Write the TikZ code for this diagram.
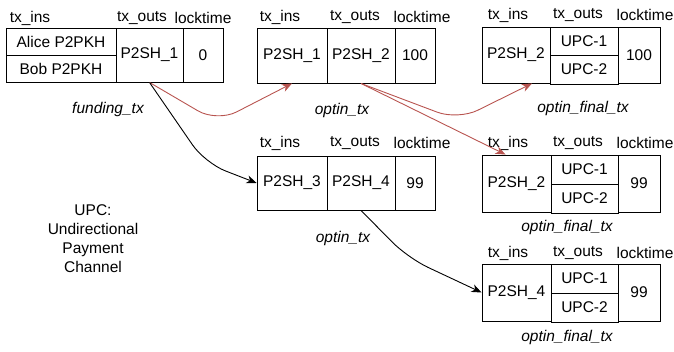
\documentclass[tikz,border=0pt]{standalone}
\usepackage{fontspec}
\setmainfont{Liberation Sans}
\usetikzlibrary{arrows.meta}
\definecolor{redline}{HTML}{B85450}
\begin{document}
\begin{tikzpicture}[x=1pt,y=-1pt,
  every node/.style={font=\fontsize{15.5}{19}\selectfont},
  cell/.style 2 args={draw, line width=0.9pt, rectangle, inner sep=0pt, minimum width=#1, minimum height=#2},
  hdr/.style={inner sep=0pt},
  lbl/.style={inner sep=0pt, font=\fontsize{15.5}{19}\selectfont\itshape},
  conn/.style={line width=0.9pt, -{Stealth[length=10pt,width=8pt,inset=3pt]}, rounded corners=22pt},
  redconn/.style={conn, draw=redline, redline}
]
\useasboundingbox (0,0) rectangle (674,352);

% funding_tx
\node[hdr] (h1a) at (30,18) {tx\_ins};
\node[hdr] (h1b) at (142,18) {tx\_outs};
\node[hdr] (h1c) at (203,18) {locktime};
\node[cell={110pt}{27pt}] (b1alice) at (61,41.5) {Alice P2PKH};
\node[cell={110pt}{27pt}] (b1bob) at (61,68.5) {Bob P2PKH};
\node[cell={67pt}{54pt}] (b1out) at (149.5,55) {P2SH\_1};
\node[cell={40pt}{54pt}] (b1lock) at (203,55) {0};
\node[lbl] (l1) at (108,109) {funding\_tx};

% optin_tx top
\node[hdr] (h2a) at (280,17) {tx\_ins};
\node[hdr] (h2b) at (355,17) {tx\_outs};
\node[hdr] (h2c) at (422,17) {locktime};
\node[cell={70pt}{55pt}] (b2in) at (292,55.5) {P2SH\_1};
\node[cell={68pt}{55pt}] (b2out) at (361,55.5) {P2SH\_2};
\node[cell={40pt}{55pt}] (b2lock) at (415,55.5) {100};
\node[lbl] (l2) at (342,110) {optin\_tx};

% optin_final_tx top
\node[hdr] (h3a) at (508,15) {tx\_ins};
\node[hdr] (h3b) at (578,15) {tx\_outs};
\node[hdr] (h3c) at (645,15) {locktime};
\node[cell={68pt}{56pt}] (b3in) at (516,55) {P2SH\_2};
\node[cell={68pt}{28pt}] (b3u1) at (584,41) {UPC-1};
\node[cell={68pt}{29pt}] (b3u2) at (584,69.5) {UPC-2};
\node[cell={42pt}{56pt}] (b3lock) at (639,55) {100};
\node[lbl] (l3) at (583,108) {optin\_final\_tx};

% optin_tx middle
\node[hdr] (h4a) at (280,143) {tx\_ins};
\node[hdr] (h4b) at (355,143) {tx\_outs};
\node[hdr] (h4c) at (422,143) {locktime};
\node[cell={70pt}{54pt}] (b4in) at (292,183) {P2SH\_3};
\node[cell={68pt}{54pt}] (b4out) at (361,183) {P2SH\_4};
\node[cell={40pt}{54pt}] (b4lock) at (415,183) {99};
\node[lbl] (l4) at (343,238) {optin\_tx};

% optin_final_tx middle
\node[hdr] (h5a) at (508,143) {tx\_ins};
\node[hdr] (h5b) at (578,143) {tx\_outs};
\node[hdr] (h5c) at (645,143) {locktime};
\node[cell={69pt}{57pt}] (b5in) at (516.5,183.5) {P2SH\_2};
\node[cell={67pt}{29pt}] (b5u1) at (584.5,169.5) {UPC-1};
\node[cell={67pt}{29pt}] (b5u2) at (584.5,198.5) {UPC-2};
\node[cell={42pt}{57pt}] (b5lock) at (639,183.5) {99};
\node[lbl] (l5) at (567,227) {optin\_final\_tx};

% optin_final_tx bottom
\node[hdr] (h6a) at (508,253) {tx\_ins};
\node[hdr] (h6b) at (578,253) {tx\_outs};
\node[hdr] (h6c) at (645,253) {locktime};
\node[cell={69pt}{57pt}] (b6in) at (516.5,292.5) {P2SH\_4};
\node[cell={67pt}{29pt}] (b6u1) at (584.5,278.5) {UPC-1};
\node[cell={67pt}{29pt}] (b6u2) at (584.5,307.5) {UPC-2};
\node[cell={42pt}{57pt}] (b6lock) at (639,292.5) {99};
\node[lbl] (l6) at (567,337) {optin\_final\_tx};

% legend
\node[inner sep=0pt, align=center, font=\fontsize{15.5}{19}\selectfont] (legend) at (93,238.5)
  {UPC:\\Undirectional\\Payment\\Channel};

% connectors
\draw[redconn] (b1out.south) -- (217,122) -- (b2in.south);
\draw[conn] (b1out.south) -- (205,163) -- (b4in.west);
\draw[redconn] (b2out.south) -- (458,120) -- ([xshift=16pt]b3in.south);
\draw[redconn] (b2out.south) -- ([xshift=-11pt]b5in.north);
\draw[conn] (b4out.south) -- (408,258) -- (b6in.west);
\end{tikzpicture}
\end{document}
